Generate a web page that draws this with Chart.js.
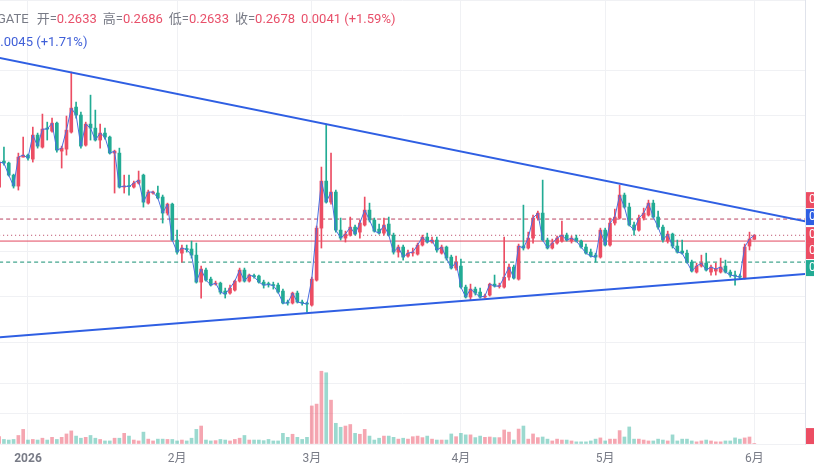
<!DOCTYPE html>
<html lang="zh">
<head>
<meta charset="UTF-8">
<title>GATE 日线</title>
<script src="https://cdn.jsdelivr.net/npm/chart.js"></script>
<style>
    html, body { margin: 0; padding: 0; background: #fff; }
    #wrap { width: 814px; height: 474px; }
</style>
</head>
<body>
<div id="wrap"><canvas id="kline" width="814" height="474"></canvas></div>
<script>
// daily candles, index 0 = 2025-12-26 (day -6, day 0 = 2026-01-01)
const firstDay = -6;
const open = [
    0.3210, 0.3497, 0.3475, 0.3342, 0.3221, 0.3541, 0.3563, 0.3519, 0.3784, 0.3651,
    0.3861, 0.3828, 0.3916, 0.3607, 0.3629, 0.3817, 0.4093, 0.4005, 0.3673, 0.3905,
    0.3861, 0.3729, 0.3806, 0.3762, 0.3585, 0.3585, 0.3210, 0.3221, 0.3210, 0.3254,
    0.3342, 0.3033, 0.3144, 0.3144, 0.3100, 0.2923, 0.3022, 0.2625, 0.2481, 0.2526,
    0.2526, 0.2459, 0.2161, 0.2294, 0.2194, 0.2139, 0.2150, 0.2062, 0.2040, 0.2073,
    0.2172, 0.2294, 0.2172, 0.2228, 0.2228, 0.2161, 0.2139, 0.2128, 0.2128, 0.2062,
    0.1941, 0.1930, 0.2040, 0.1941, 0.1930, 0.1907, 0.2183, 0.2757, 0.3276, 0.3044,
    0.3155, 0.2735, 0.2647, 0.2680, 0.2768, 0.2713, 0.2791, 0.2956, 0.2846, 0.2746,
    0.2702, 0.2802, 0.2680, 0.2492, 0.2548, 0.2448, 0.2481, 0.2470, 0.2570, 0.2658,
    0.2603, 0.2625, 0.2481, 0.2548, 0.2437, 0.2316, 0.2338, 0.2106, 0.1996, 0.2084,
    0.2051, 0.1996, 0.2018, 0.2139, 0.2112, 0.2106, 0.2216, 0.2327, 0.2194, 0.2559,
    0.2537, 0.2647, 0.2868, 0.2923, 0.2625, 0.2537, 0.2592, 0.2614, 0.2680, 0.2614,
    0.2647, 0.2614, 0.2548, 0.2492, 0.2459, 0.2437, 0.2735, 0.2570, 0.2813, 0.2868,
    0.3122, 0.2989, 0.2791, 0.2735, 0.2868, 0.2901, 0.3033, 0.2879, 0.2768, 0.2614,
    0.2691, 0.2559, 0.2504, 0.2481, 0.2382, 0.2272, 0.2338, 0.2371, 0.2272, 0.2283,
    0.2272, 0.2338, 0.2272, 0.2239, 0.2228, 0.2205, 0.2559, 0.2633
];
const high = [
    0.3508, 0.3651, 0.3486, 0.3353, 0.3585, 0.3762, 0.3574, 0.3872, 0.3806, 0.4016,
    0.3927, 0.3972, 0.3927, 0.3662, 0.3994, 0.4479, 0.4148, 0.4038, 0.3927, 0.4225,
    0.4060, 0.3905, 0.3861, 0.3773, 0.3618, 0.3640, 0.3342, 0.3342, 0.3276, 0.3387,
    0.3353, 0.3177, 0.3166, 0.3221, 0.3122, 0.3033, 0.3033, 0.2735, 0.2570, 0.2570,
    0.2614, 0.2592, 0.2338, 0.2316, 0.2216, 0.2172, 0.2161, 0.2095, 0.2128, 0.2183,
    0.2316, 0.2316, 0.2250, 0.2250, 0.2239, 0.2183, 0.2161, 0.2161, 0.2150, 0.2084,
    0.1963, 0.2051, 0.2062, 0.1963, 0.1941, 0.2216, 0.2780, 0.3431, 0.3905, 0.3585,
    0.3177, 0.2868, 0.2724, 0.2879, 0.2791, 0.2846, 0.3100, 0.3033, 0.2868, 0.2802,
    0.2868, 0.2879, 0.2702, 0.2570, 0.2570, 0.2515, 0.2537, 0.2592, 0.2680, 0.2702,
    0.2658, 0.2658, 0.2570, 0.2559, 0.2459, 0.2448, 0.2415, 0.2128, 0.2139, 0.2106,
    0.2095, 0.2029, 0.2150, 0.2239, 0.2150, 0.2658, 0.2360, 0.2349, 0.2581, 0.3011,
    0.2713, 0.2901, 0.2945, 0.3287, 0.2647, 0.2636, 0.2669, 0.2835, 0.2702, 0.2669,
    0.2680, 0.2625, 0.2581, 0.2526, 0.2481, 0.2757, 0.2757, 0.2868, 0.2967, 0.3232,
    0.3144, 0.3033, 0.2824, 0.2901, 0.2978, 0.3066, 0.3066, 0.2945, 0.2791, 0.2724,
    0.2702, 0.2625, 0.2625, 0.2515, 0.2404, 0.2371, 0.2459, 0.2481, 0.2349, 0.2371,
    0.2426, 0.2404, 0.2294, 0.2283, 0.2250, 0.2581, 0.2713, 0.2686
];
const low = [
    0.3177, 0.3453, 0.3331, 0.3199, 0.3177, 0.3541, 0.3508, 0.3486, 0.3640, 0.3640,
    0.3729, 0.3817, 0.3596, 0.3420, 0.3563, 0.3806, 0.3972, 0.3640, 0.3662, 0.3729,
    0.3718, 0.3640, 0.3740, 0.3574, 0.3144, 0.3199, 0.3144, 0.3122, 0.3199, 0.3243,
    0.2989, 0.3022, 0.3133, 0.3078, 0.2813, 0.2901, 0.2614, 0.2470, 0.2382, 0.2492,
    0.2426, 0.2150, 0.1985, 0.2172, 0.2117, 0.2128, 0.2029, 0.1985, 0.2029, 0.2062,
    0.2161, 0.2161, 0.2161, 0.2205, 0.2150, 0.2095, 0.2106, 0.2084, 0.2040, 0.1919,
    0.1907, 0.1919, 0.1930, 0.1907, 0.1830, 0.1896, 0.2172, 0.2537, 0.3033, 0.3022,
    0.2713, 0.2625, 0.2603, 0.2669, 0.2680, 0.2647, 0.2780, 0.2824, 0.2713, 0.2691,
    0.2680, 0.2669, 0.2470, 0.2437, 0.2404, 0.2437, 0.2448, 0.2459, 0.2559, 0.2592,
    0.2592, 0.2492, 0.2470, 0.2404, 0.2305, 0.2294, 0.2095, 0.1985, 0.1963, 0.2018,
    0.1985, 0.1985, 0.2007, 0.2106, 0.2095, 0.2095, 0.2183, 0.2194, 0.2183, 0.2515,
    0.2526, 0.2592, 0.2846, 0.2614, 0.2526, 0.2526, 0.2581, 0.2603, 0.2614, 0.2592,
    0.2603, 0.2537, 0.2470, 0.2437, 0.2382, 0.2426, 0.2559, 0.2559, 0.2791, 0.2857,
    0.2978, 0.2780, 0.2680, 0.2724, 0.2846, 0.2890, 0.2868, 0.2746, 0.2603, 0.2592,
    0.2537, 0.2481, 0.2470, 0.2371, 0.2272, 0.2261, 0.2327, 0.2283, 0.2239, 0.2239,
    0.2261, 0.2261, 0.2216, 0.2128, 0.2194, 0.2194, 0.2515, 0.2633
];
const close = [
    0.3486, 0.3475, 0.3342, 0.3221, 0.3541, 0.3563, 0.3530, 0.3784, 0.3662, 0.3850,
    0.3850, 0.3916, 0.3618, 0.3640, 0.3839, 0.4082, 0.4005, 0.3662, 0.3905, 0.3861,
    0.3729, 0.3806, 0.3762, 0.3585, 0.3607, 0.3210, 0.3221, 0.3215, 0.3254, 0.3287,
    0.3044, 0.3155, 0.3155, 0.3089, 0.2923, 0.3022, 0.2625, 0.2492, 0.2537, 0.2520,
    0.2459, 0.2161, 0.2305, 0.2183, 0.2128, 0.2150, 0.2051, 0.2029, 0.2095, 0.2172,
    0.2294, 0.2172, 0.2239, 0.2222, 0.2161, 0.2128, 0.2134, 0.2123, 0.2051, 0.1930,
    0.1930, 0.2040, 0.1941, 0.1930, 0.1919, 0.2194, 0.2757, 0.3276, 0.3044, 0.3155,
    0.2735, 0.2647, 0.2691, 0.2768, 0.2691, 0.2813, 0.2956, 0.2846, 0.2724, 0.2702,
    0.2791, 0.2680, 0.2492, 0.2548, 0.2437, 0.2481, 0.2492, 0.2570, 0.2658, 0.2603,
    0.2625, 0.2515, 0.2548, 0.2426, 0.2316, 0.2382, 0.2106, 0.1996, 0.2084, 0.2040,
    0.1996, 0.2007, 0.2139, 0.2117, 0.2117, 0.2216, 0.2327, 0.2205, 0.2559, 0.2537,
    0.2647, 0.2868, 0.2923, 0.2625, 0.2537, 0.2592, 0.2647, 0.2680, 0.2625, 0.2647,
    0.2614, 0.2548, 0.2481, 0.2448, 0.2437, 0.2735, 0.2570, 0.2813, 0.2879, 0.3122,
    0.2989, 0.2791, 0.2735, 0.2868, 0.2923, 0.3033, 0.2879, 0.2768, 0.2625, 0.2691,
    0.2559, 0.2492, 0.2481, 0.2382, 0.2283, 0.2338, 0.2371, 0.2294, 0.2327, 0.2305,
    0.2327, 0.2272, 0.2239, 0.2228, 0.2216, 0.2548, 0.2637, 0.2678
];
const volume = [
    2.4, 1.5, 1.3, 1.5, 2.8, 4.8, 1.3, 1.5, 1.3, 1.9,
    1.3, 2.2, 1.5, 2.2, 3.3, 4.3, 2.6, 1.9, 2.2, 2.8,
    1.9, 1.5, 1.0, 1.0, 1.9, 1.9, 3.5, 2.6, 1.3, 1.0,
    3.9, 1.6, 1.0, 1.6, 1.6, 1.5, 1.5, 1.0, 1.3, 1.0,
    1.9, 4.8, 5.9, 1.3, 1.0, 1.1, 1.5, 1.3, 1.0, 1.5,
    1.9, 2.8, 1.3, 1.3, 1.3, 1.1, 1.5, 1.0, 1.0, 3.5,
    2.2, 3.2, 2.2, 1.5, 2.2, 12.5, 13.1, 23.9, 23.4, 14.4,
    6.8, 5.5, 5.9, 6.4, 3.5, 3.2, 4.8, 2.6, 1.3, 1.9,
    2.6, 2.6, 2.2, 1.6, 1.9, 1.6,
    2.4, 2.6, 2.1, 2.6, 1.6, 1.3, 1.3, 1.3, 3.3, 2.4,
    3.5, 3.0, 3.0, 2.1, 2.6, 2.2, 2.3, 2.1, 2.1, 4.6,
    3.9, 1.3, 4.9, 5.9, 1.6, 3.3, 2.1, 2.3, 1.6, 1.0,
    1.6, 1.3, 1.3, 1.0, 0.7, 0.7, 0.7, 1.0, 1.6, 2.0,
    1.0, 1.6, 1.6, 4.4, 2.3, 5.6, 1.6, 1.6, 1.3, 1.0,
    1.0, 1.6, 1.3, 1.0, 3.0, 1.0, 1.6, 1.6, 1.0, 0.7,
    1.0, 1.3, 1.0, 0.7, 0.7, 1.0, 1.0, 2.0, 1.6, 2.0,
    2.3, 0.2
];

// month ticks (days from 2026-01-01)
const monthTicks = [0, 31, 59, 90, 120, 151];
const monthLabels = ['2026', '2月', '3月', '4月', '5月', '6月'];

// triangle trendlines, end points at day -6 and day 162
const trendDays = [-6, 162];
const upperTrend = [0.4636, 0.2829];
const lowerTrend = [0.1553, 0.2252];

// horizontal levels
const levelPrices = [0.2857, 0.2678, 0.2614, 0.2382];
const levelColors = ['#b8405f', '#b8405f', '#e2475f', '#158f72'];
const levelDash = [[4, 3], [1, 3], [], [4, 3]];

// price tags on the (cut off) right axis
const tagPrices = [0.3066, 0.2879, 0.2680, 0.2504, 0.2316];
const tagTexts = ['0.2857', '0.2835', '0.2678', '0.2614', '0.2382'];
const tagColors = ['#ec4d63', '#2f5fe3', '#ec4d63', '#ec4d63', '#22ab94'];
const volTag = 2.6;

const upColor = '#ec4d63';
const downColor = '#22ab94';
const gridColor = '#f0f1f4';

const days = close.map((_, i) => firstDay + i);
const isUp = close.map((c, i) => c >= open[i]);

const overlay = {
    id: 'overlay',
    afterDraw(chart) {
        const ctx = chart.ctx;
        const ys = chart.scales.y, yv = chart.scales.yVol;
        ctx.save();
        ctx.textBaseline = 'middle';
        ctx.font = '12px Roboto, sans-serif';
        tagPrices.forEach((p, i) => {
            const py = ys.getPixelForValue(p);
            ctx.fillStyle = tagColors[i];
            ctx.fillRect(806, py - 8, 20, 16);
            ctx.fillStyle = '#fff';
            ctx.fillText(tagTexts[i], 809, py);
        });
        const vy = yv.getPixelForValue(volTag);
        ctx.fillStyle = upColor;
        ctx.fillRect(806, vy - 8, 20, 16);

        // legend header
        ctx.font = '13px Roboto, "Noto Sans CJK SC", sans-serif';
        const gray = '#787b86', red = '#e8506a';
        const parts = [
            ['GATE', gray, 8], ['开=', gray, 0], ['0.2633', red, 6],
            ['高=', gray, 0], ['0.2686', red, 6], ['低=', gray, 0], ['0.2633', red, 6],
            ['收=', gray, 0], ['0.2678', red, 6], ['0.0041 (+1.59%)', red, 0]
        ];
        let x = -3;
        parts.forEach(([t, c, gap]) => {
            ctx.fillStyle = c;
            ctx.fillText(t, x, 20);
            x += ctx.measureText(t).width + gap;
        });
        ctx.fillStyle = '#3f5fd8';
        ctx.fillText('0.0045 (+1.71%)', -7, 43);
        ctx.restore();
    }
};

const lineSet = (data, color, width, dash, order) => ({
    type: 'line', data, borderColor: color, borderWidth: width, borderDash: dash,
    pointRadius: 0, tension: 0, yAxisID: 'y', order
});

const datasets = [
    lineSet(trendDays.map((d, i) => ({x: d, y: upperTrend[i]})), '#2f5fe3', 2, [], 0),
    lineSet(trendDays.map((d, i) => ({x: d, y: lowerTrend[i]})), '#2f5fe3', 2, [], 0),
    lineSet(days.map((d, i) => ({x: d, y: close[i]})), '#4a6ee0', 1, [], 1),
    {
        type: 'bar', data: days.map((d, i) => ({x: d, y: [open[i], close[i]]})),
        backgroundColor: isUp.map(u => u ? upColor : downColor),
        barThickness: 3, minBarLength: 1, grouped: false, yAxisID: 'y', order: 2
    },
    {
        type: 'bar', data: days.map((d, i) => ({x: d, y: [low[i], high[i]]})),
        backgroundColor: isUp.map(u => u ? upColor : downColor),
        barThickness: 1, minBarLength: 1, grouped: false, yAxisID: 'y', order: 3
    },
    ...levelPrices.map((p, i) =>
        lineSet(trendDays.map(d => ({x: d, y: p})), levelColors[i], 1, levelDash[i], 4)),
    {
        type: 'bar', data: days.map((d, i) => ({x: d, y: volume[i]})),
        backgroundColor: isUp.map(u => u ? 'rgba(236,77,99,0.5)' : 'rgba(34,171,148,0.45)'),
        barThickness: 3, grouped: false, yAxisID: 'yVol', order: 5
    }
];

new Chart(document.getElementById('kline'), {
    type: 'bar',
    data: { datasets },
    options: {
        responsive: false,
        animation: false,
        devicePixelRatio: 1,
        layout: { padding: 0 },
        plugins: { legend: { display: false }, tooltip: { enabled: false } },
        scales: {
            x: {
                type: 'linear', min: -5.82, max: 161.54, offset: false,
                afterBuildTicks: s => { s.ticks = monthTicks.map(v => ({value: v})); },
                afterFit: s => { s.height = 30; },
                ticks: {
                    autoSkip: false, maxRotation: 0, padding: 8,
                    callback: v => monthLabels[monthTicks.indexOf(v)],
                    color: '#787b86',
                    font: c => ({ family: 'Roboto, "Noto Sans CJK SC", sans-serif', size: 12,
                                  weight: c.index === 0 ? 'bold' : 'normal' })
                },
                grid: { color: gridColor, drawTicks: false, offset: false },
                border: { display: false }
            },
            y: {
                type: 'linear', position: 'right', stack: 'pane', stackWeight: 342,
                min: 0.15, max: 0.5275,
                afterFit: s => { s.width = 9; },
                ticks: { display: false, stepSize: 0.05 },
                grid: { color: gridColor, drawTicks: false },
                border: { display: true, color: '#e0e3eb' }
            },
            yVol: {
                type: 'linear', position: 'right', stack: 'pane', stackWeight: 102,
                min: 0, max: 33.5,
                afterFit: s => { s.width = 9; },
                ticks: { display: false, stepSize: 10 },
                grid: { color: gridColor, drawTicks: false },
                border: { display: true, color: '#e0e3eb' }
            }
        }
    },
    plugins: [overlay]
});
</script>
</body>
</html>
